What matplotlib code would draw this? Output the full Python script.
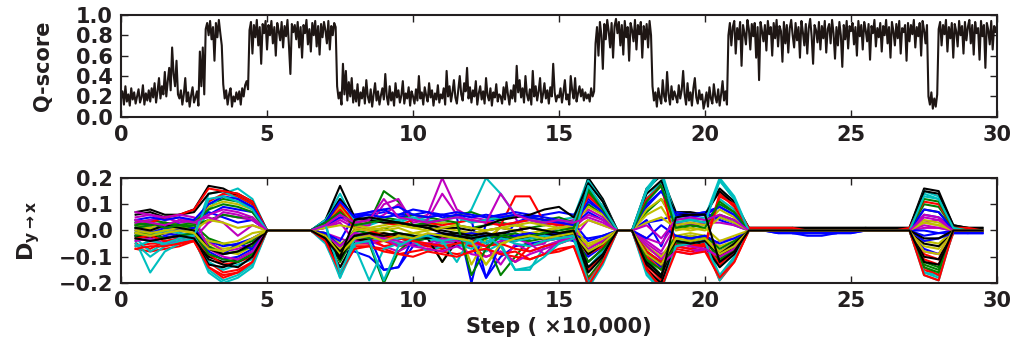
import numpy as np
import matplotlib
matplotlib.use('Agg')
import matplotlib.pyplot as plt

# Q-score trace, one row per 10,000 steps, 20 samples per row (values x100)
q_rows = [
    "18 25 12 30 15 22 11 28 17 24 13 20 27 14 19 31 12 23 16 26",
    "15 28 19 33 14 25 38 18 30 22 44 20 35 48 26 68 42 30 55 22",
    "18 26 12 22 38 15 24 10 21 29 14 19 25 11 64 30 68 22 86 92",
    "80 94 76 88 55 92 78 95 82 70 32 18 26 12 22 28 10 20 15 24",
    "17 25 12 28 20 31 35 27 85 93 62 90 78 95 70 88 52 91 82 94",
    "66 90 80 94 72 88 60 92 84 75 93 68 89 79 95 70 42 91 83 90",
    "76 93 68 88 58 90 82 95 71 86 64 92 80 94 69 89 61 91 78 93",
    "85 72 94 66 89 80 92 88 30 18 24 12 52 22 45 16 34 20 38 14",
    "26 15 32 11 24 18 29 13 36 20 14 27 10 22 33 16 25 12 21 28",
    "17 42 20 12 30 16 24 11 33 19 26 14 21 35 13 23 18 29 11 25",
    "20 13 27 16 40 18 24 12 29 21 15 33 19 26 11 23 17 31 14 22",
    "18 28 12 45 20 30 15 24 36 19 13 27 40 22 16 33 25 48 18 29",
    "14 26 20 35 12 23 30 17 25 13 38 21 16 28 11 24 19 32 15 22",
    "20 13 29 17 34 22 12 26 18 31 15 50 24 36 19 28 14 40 22 16",
    "27 12 45 20 30 16 25 38 14 22 33 18 26 13 29 20 52 24 15 21",
    "19 28 14 24 36 17 22 12 40 26 18 38 15 23 30 20 27 16 24 18",
    "22 15 28 20 25 72 88 60 93 80 47 91 76 95 84 68 92 58 89 96",
    "82 93 70 90 61 94 78 88 55 92 85 74 95 66 90 81 93 58 89 76",
    "91 68 94 80 30 16 24 10 28 19 13 36 20 15 44 22 12 30 17 25",
    "20 14 31 18 26 45 22 12 33 16 24 11 28 38 19 13 26 17 22 8",
    "15 24 10 29 18 13 32 20 14 27 11 22 35 16 25 12 80 92 70 88",
    "94 62 87 76 93 50 90 82 71 95 86 66 91 79 92 58 88 36 93 84",
    "74 90 65 94 81 88 60 92 77 95 69 89 84 54 93 72 90 63 87 95",
    "80 68 92 75 88 58 94 83 70 91 62 87 96 79 52 90 85 73 93 66",
    "89 77 94 63 86 91 72 95 82 57 88 70 93 80 49 90 76 94 67 89",
    "84 92 71 88 60 94 79 90 66 93 85 74 91 56 89 82 95 69 87 78",
    "92 64 89 80 95 72 88 58 93 84 70 91 77 94 62 87 83 90 55 92",
    "74 90 81 95 68 88 79 92 60 94 85 72 90 20 12 24 8 18 10 22",
    "86 93 70 90 81 95 64 88 77 92 58 91 84 69 94 80 89 62 93 75",
    "88 95 72 90 61 93 82 87 56 94 79 90 48 92 85 71 94 66 89 83 90",
]

# D_{y->x} sampled every 5,000 steps from 0.5 to 29.5 (values x100)
d_steps = np.arange(0.5, 30, 0.5)
d_lines = [
    "2 1 3 2 3 | 6 9 8 7 | 0 0 0 0 | 2 7 | 6 6 7 6 6 5 6 5 -20 3 5 6 5 6 7 6 | 12 7 | 0 0 | 9 15 | 6 6 7 | 9 6 | 0 0 0 0 0 -1 -1 0 0 0 0 0 | 6 5 | 1 0 0",
    "3 2 1 4 3 | 10 12 11 9 | 0 0 0 0 | 3 10 | 1 3 15 11 2 1 3 2 1 2 3 2 1 2 3 2 | 16 9 | 0 0 | 12 18 | 2 1 3 | 10 7 | 0 0 0 1 0 0 0 0 1 0 0 0 | 10 9 | 1 1 0",
    "-7 -8 -7 -6 -4 | -12 -16 -15 -12 | 0 0 0 0 | -2 -9 | -5 -5 -4 -6 -5 -6 -5 -4 -5 -6 2 13 13 3 2 1 | -15 -9 | 0 0 | -13 -19 | -6 -7 -6 | -19 -12 | 0 0 0 0 -1 0 0 0 0 0 0 0 | -11 -13 | -1 0 0",
    "-4 -16 -8 -5 -3 | 8 14 16 12 | 0 0 0 0 | 4 14 | 3 2 4 3 5 4 3 2 8 20 14 6 4 3 4 5 | 20 11 | 0 0 | 15 22 | 4 5 4 | 19 12 | 0 0 0 0 0 0 0 0 0 0 0 0 | 14 12 | 1 0 0",
    "5 6 4 5 3 | 3 6 5 4 | 0 0 0 0 | 1 5 | 2 3 6 10 4 6 20 8 5 4 6 5 -6 -5 3 4 | 8 5 | 0 0 | -4 -8 | 2 3 2 | 5 3 | 0 0 0 0 0 0 0 0 0 0 0 0 | 3 4 | 0 0 0",
    "0 1 -1 0 0 | -5 -7 -6 -3 | 0 0 0 0 | -1 -5 | -2 -1 -3 -2 -1 -2 -12 -3 -2 -1 -2 -3 -2 -1 -2 -1 | -6 -4 | 0 0 | -7 -10 | -2 -1 -2 | -6 -4 | 0 0 0 0 0 0 0 0 0 0 0 0 | 3 2 | 0 0 0",
    "7 8 6 6 8 | 17 16 13 10 | 0 0 0 0 | 4 17 | 5 4 4 3 2 1 0 -1 -1 0 1 0 1 0 1 0 | 20 12 | 0 0 | 16 21 | 7 7 6 | 16 11 | 1 1 1 1 1 1 1 1 1 1 1 1 | 16 15 | 2 1 1",
    "-3 -4 -2 -3 -2 | -8 -11 -10 -7 | 0 0 0 0 | -3 -8 | -8 -10 -15 -14 -6 -5 -7 -6 -5 -18 -10 -6 -5 -4 -3 -4 | -10 -6 | 0 0 | -9 -14 | -4 -3 -5 | -8 -5 | 0 0 0 -1 -1 -1 -1 -1 0 0 0 0 | -7 -9 | -1 -1 -1",
    "2 3 2 1 2 | -3 -5 -6 -4 | 0 0 0 0 | -2 -12 | -2 -5 -20 -8 -3 -2 -4 -3 -2 -4 -17 -10 -3 -2 -1 -2 | -18 -11 | 0 0 | -11 -17 | -3 -2 -3 | -12 -7 | 0 0 0 0 0 0 0 0 0 0 0 0 | -13 -15 | 0 0 0",
    "-6 -5 -5 -5 -4 | -14 -17 -16 -13 | 0 0 0 0 | -3 -14 | -6 -6 -7 -9 -8 -7 -8 -9 -8 -7 -9 -10 -11 -9 -7 -6 | -19 -12 | 0 0 | -14 -21 | -7 -8 -7 | -18 -11 | 0 0 0 0 0 0 0 0 0 0 0 0 | -15 -17 | -1 0 0",
    "-2 -3 -6 -4 -3 | -15 -19 -17 -13 | 0 0 0 0 | -4 -18 | -3 -4 -3 -5 -4 -3 -5 -4 -6 -8 -5 -15 -15 -6 -4 -3 | -22 -13 | 0 0 | -16 -22 | -3 -5 -4 | -17 -10 | 0 0 0 0 0 0 0 0 0 0 0 0 | -16 -18 | 0 0 0",
    "-2 -1 -3 -2 -1 | -4 -8 -7 -5 | 0 0 0 0 | -1 -3 | -5 -4 -6 -8 -5 -6 -4 -5 -3 -6 -13 -5 -8 -6 -4 -3 | -7 -4 | 0 0 | -5 -9 | -6 -7 -8 | -9 -5 | 0 0 0 0 0 0 0 0 0 0 0 0 | 1 1 | 0 0 0",
    "1 0 1 2 1 | -6 -8 -9 -6 | 0 0 0 0 | -2 -10 | 1 0 -1 -2 -3 -2 -1 -4 -5 -13 -6 -2 -1 -2 -1 0 | -5 -3 | 0 0 | -6 -10 | -3 -2 -3 | -8 -5 | 0 0 0 0 0 0 0 0 0 0 0 0 | -6 -7 | 0 0 0",
    "-1 -2 0 -1 -2 | -10 -12 -11 -8 | 0 0 0 0 | -3 -11 | -1 -2 -1 -2 -3 -2 -3 -2 -3 -2 -1 -2 -1 -2 -1 -1 | -12 -7 | 0 0 | -12 -17 | -4 -5 -4 | -10 -6 | 0 0 0 0 0 0 0 0 0 0 0 0 | -5 -6 | 0 0 0",
    "1 2 1 3 4 | 7 5 3 4 | 0 0 0 0 | 2 5 | 5 7 8 5 6 7 6 5 4 -18 -5 3 5 4 3 2 | 7 4 | 0 0 | 4 -6 | 7 6 7 | 4 2 | 0 0 0 -1 -1 -1 -1 0 0 0 0 0 | -2 -1 | 0 -1 -1",
    "3 4 3 2 2 | 4 6 5 5 | 0 0 0 0 | 2 8 | 3 4 5 4 6 5 4 6 7 5 4 6 5 4 5 3 | 10 6 | 0 0 | 7 12 | 3 4 3 | 6 4 | 0 0 0 0 0 0 0 0 0 0 0 0 | 8 7 | 1 1 0",
    "-5 -7 -4 -5 -3 | -9 -13 -12 -10 | 0 0 0 0 | -2 -7 | -4 -3 -6 -5 -4 -6 -7 -5 -6 -10 -8 -12 -6 -4 -3 -2 | -9 -6 | 0 0 | -10 -15 | -4 -6 -5 | -13 -8 | 0 0 0 0 0 0 0 0 0 0 0 0 | -9 -11 | 0 0 0",
    "-3 -8 -5 -3 -2 | -12 -15 -13 -11 | 0 0 0 0 | 3 -18 | -6 -19 -7 -5 -4 -8 -6 -5 -7 -4 -3 -5 -6 -4 -3 -2 | -14 -8 | 0 0 | 12 19 | -5 -4 -6 | 12 8 | 0 0 0 0 0 0 0 0 0 0 0 0 | -16 -17 | 0 0 0",
    "3 4 5 3 4 | 5 3 -2 2 | 0 0 0 0 | 1 4 | 1 2 10 12 3 4 14 6 3 4 2 3 4 2 3 1 | 6 4 | 0 0 | -3 -5 | 3 2 3 | 3 2 | 0 0 0 0 0 0 0 0 0 0 0 0 | 2 1 | 0 0 0",
    "2 1 3 2 3 | 9 11 10 8 | 0 0 0 0 | 2 9 | 2 1 2 3 1 2 3 2 -13 -3 1 2 3 2 1 2 | 9 6 | 0 0 | 8 12 | 2 3 2 | 8 5 | 0 0 0 0 0 0 0 0 0 0 0 0 | 4 3 | 0 0 0",
    "-2 -3 -1 -2 -3 | -13 -14 -12 -9 | 0 0 0 0 | -4 -14 | -4 -3 -2 -3 -4 -3 -12 -4 -3 -2 -3 -4 -2 -3 -2 -1 | -16 -10 | 0 0 | -15 -20 | -5 -4 -6 | -14 -9 | 0 0 0 0 0 0 0 0 0 0 0 0 | -10 -11 | 0 0 0",
    "-1 0 -1 -2 -1 | -4 -6 -5 -3 | 0 0 0 0 | -1 -4 | 6 7 8 9 6 5 6 7 6 5 6 7 6 5 4 3 | -4 -2 | 0 0 | 3 4 | 6 6 6 | 5 3 | 0 0 -1 -1 -1 -1 -1 0 0 0 0 0 | 0 -1 | -1 -1 -1",
    "1 2 3 2 1 | -6 -9 -8 -6 | 0 0 0 0 | -2 -6 | 0 -1 1 -1 -2 -3 -2 -1 -2 -3 -2 -1 -3 -2 -1 0 | -8 -5 | 0 0 | -8 -12 | -2 -3 -2 | -7 -4 | 0 0 0 0 0 0 0 0 0 0 0 0 | -12 -14 | 0 0 0",
    "-3 -2 -4 -3 -2 | 11 14 13 10 | 0 0 0 0 | 3 10 | 3 4 3 2 4 3 2 3 4 3 2 3 4 3 2 3 | 13 8 | 0 0 | -8 -12 | -6 -7 -5 | 14 9 | 0 0 0 0 0 0 0 0 0 0 0 0 | -14 -17 | 0 0 0",
    "-1 -2 0 -1 -2 | 14 15 12 9 | 0 0 0 0 | 4 12 | 4 5 3 4 5 3 4 5 3 4 5 6 4 3 4 3 | 19 11 | 0 0 | 16 23 | 5 4 5 | 20 13 | 0 0 0 0 0 0 0 0 0 0 0 0 | 15 13 | 1 0 0",
    "-4 -3 -5 -4 -3 | 3 7 6 4 | 0 0 0 0 | 1 3 | -4 -5 -3 -6 -4 -5 -3 -4 -5 -6 -4 -3 -5 -9 -4 -3 | 4 2 | 0 0 | -6 -11 | -5 -6 -7 | -4 -3 | 0 0 0 0 0 0 0 0 0 0 0 0 | 6 5 | 0 0 0",
    "-1 0 1 0 -1 | -4 -5 -4 -1 | 0 0 0 0 | -1 -7 | 0 1 0 1 -1 0 1 0 -1 0 1 0 -1 0 1 0 | 4 2 | 0 0 | 6 9 | 0 1 0 | 5 3 | 0 0 0 0 0 0 0 0 0 0 0 0 | -4 -5 | 0 0 0",
    "6 7 5 6 7 | 14 15 14 11 | 0 0 0 0 | 3 12 | 5 4 3 3 2 2 1 1 0 2 4 5 6 8 9 5 | 18 11 | 0 0 | 14 19 | 6 6 6 | 15 10 | 1 1 1 1 1 1 1 1 1 1 1 1 | 15 14 | 2 1 1",
    "0 -1 1 0 1 | -7 -9 -5 -7 | 0 0 0 0 | -1 -6 | -1 -2 -15 -14 -3 -2 -1 -2 -1 -2 -3 -2 -1 -2 -1 -2 | -3 -2 | 0 0 | -3 2 | -2 -3 -2 | -5 -3 | 0 0 -1 -1 -2 -2 -1 -1 0 0 0 0 | -4 -3 | -1 -1 0",
    "-2 -1 -3 -2 -1 | -9 -11 -12 -9 | 0 0 0 0 | -3 -9 | -2 -3 -2 -3 -4 -3 -2 -3 -4 -3 -2 -3 -4 -3 -2 -1 | -12 -7 | 0 0 | -11 -15 | -5 -4 -3 | -11 -7 | 0 0 0 0 0 0 0 0 0 0 0 0 | -14 -16 | 0 0 0",
    "4 3 5 6 8 | 16 15 14 11 | 0 0 0 0 | 2 8 | 1 0 -2 -3 -4 -5 -6 -5 -4 -6 -5 -7 -8 -6 -5 -3 | 14 9 | 0 0 | 12 17 | -6 -5 -6 | 13 10 | 1 1 1 1 0 0 0 0 0 0 0 1 | 11 10 | 1 1 0",
    "-5 -10 -6 -4 -3 | -16 -20 -18 -14 | 0 0 0 0 | -5 -17 | -3 -2 -4 -3 -2 -3 -4 -12 -2 -5 -3 -4 -3 -2 -3 -2 | -20 -12 | 0 0 | -17 -23 | -6 -5 -4 | -19 -11 | 0 0 0 0 0 0 0 0 0 0 0 0 | -17 -19 | 0 0 0",
    "7 6 5 6 5 | -7 -10 -11 -8 | 0 0 0 0 | -2 -6 | -1 -2 -3 -4 -6 -7 -8 -6 -9 -10 -8 -12 -9 -7 -5 -3 | -6 -4 | 0 0 | -9 -13 | -8 -9 -7 | -10 -7 | 0 0 0 0 0 0 0 0 0 0 0 0 | -8 -9 | 0 0 0",
    "0 -1 0 1 0 | 4 3 1 2 | 0 0 0 0 | 1 2 | 1 0 1 2 1 0 1 2 1 0 1 2 1 0 1 2 | -6 -3 | 0 0 | 3 5 | 1 0 1 | -4 -2 | 0 0 0 0 0 0 0 0 0 0 0 0 | 3 2 | 0 0 0",
    "1 0 2 1 0 | -7 -9 -8 -5 | 0 0 0 0 | -2 -8 | -2 -1 -2 -1 -2 -3 -2 -1 -2 -1 -2 -3 -2 -1 -2 -1 | -9 -5 | 0 0 | -9 -13 | -4 -5 -4 | -9 -5 | 0 0 0 0 0 0 0 0 0 0 0 0 | -3 -3 | 0 0 0",
    "4 5 4 5 4 | 10 13 12 9 | 0 0 0 0 | 3 11 | 5 6 5 6 8 7 5 6 5 6 5 6 5 4 3 2 | 11 7 | 0 0 | 10 15 | 6 5 6 | 9 6 | 0 0 0 -1 0 0 0 0 0 0 0 0 | 8 7 | 0 0 0",
    "2 3 1 2 3 | 8 10 9 7 | 0 0 0 0 | 3 7 | 2 3 4 3 2 3 4 3 -17 -7 -2 -3 -2 -1 0 1 | 15 8 | 0 0 | 11 17 | 1 2 1 | 11 7 | 0 0 0 0 0 0 0 0 0 0 0 0 | 12 11 | 1 0 0",
    "-7 -6 -6 -5 -4 | -14 -18 -16 -12 | 0 0 0 0 | -4 -16 | -7 -6 -8 -9 -10 -8 -9 -10 -8 -7 -9 -8 -11 -9 -8 -6 | -21 -12 | 0 0 | -15 -22 | -8 -9 -8 | -18 -12 | 0 0 0 0 0 0 0 0 0 0 0 0 | -17 -19 | 0 0 0",
    "-6 -4 -5 -3 -2 | 12 13 11 8 | 0 0 0 0 | 2 -16 | -5 -4 -19 -6 -3 -2 -4 -3 -5 -2 -6 -15 -14 -10 -5 -3 | 17 9 | 0 0 | 15 22 | 3 4 3 | 19 12 | 0 0 0 0 0 0 0 0 0 0 0 0 | 13 12 | 1 0 0",
    "4 3 2 4 3 | 6 8 7 5 | 0 0 0 0 | 2 6 | 3 4 12 5 4 3 4 5 4 3 14 6 4 3 4 3 | 5 3 | 0 0 | 2 -3 | 4 5 4 | 6 4 | 0 0 0 0 0 0 0 0 0 0 0 0 | 5 4 | 0 0 0",
    "-1 -2 -1 0 -1 | -7 -8 -6 -3 | 0 0 0 0 | -2 -9 | -3 -2 -4 -2 -3 -1 -2 -3 -4 -13 -5 -3 -2 -3 -2 -1 | -8 -5 | 0 0 | -9 -13 | -3 -4 -3 | -9 -6 | 0 0 0 0 0 0 0 0 0 0 0 0 | -8 -9 | 0 0 0",
    "-3 -4 -3 -2 -3 | -11 -13 -14 -10 | 0 0 0 0 | -3 -10 | 4 5 4 3 2 1 -1 -2 -3 -2 -1 0 1 0 -1 0 | -14 -9 | 0 0 | -13 -18 | 5 6 6 | -12 -8 | 0 0 0 0 0 0 0 0 0 0 0 0 | -12 -13 | 0 0 0",
]
line_colors = ['b', 'g', 'r', 'c', 'm', 'y', 'k']

ink = '#231f20'
plt.rcParams['font.family'] = 'DejaVu Sans'
plt.rcParams['font.weight'] = 'bold'
plt.rcParams['mathtext.fontset'] = 'dejavusans'
plt.rcParams['text.color'] = ink
plt.rcParams['axes.labelcolor'] = ink
plt.rcParams['xtick.color'] = ink
plt.rcParams['ytick.color'] = ink

q_score = np.array(' '.join(q_rows).split(), dtype=float) / 100
q_steps = np.linspace(0, 30, len(q_score))

fig = plt.figure(figsize=(10.17, 3.53), dpi=100)
ax1 = fig.add_axes([0.119, 0.669, 0.8614, 0.289])
ax2 = fig.add_axes([0.119, 0.1983, 0.8614, 0.2975])

ax1.plot(q_steps, q_score, color='#1e1614', lw=1.5)
ax1.set_xlim(0, 30)
ax1.set_ylim(0, 1)
ax1.set_yticks(np.arange(0, 1.01, 0.2))
ax1.set_ylabel('Q-score', fontsize=15, fontweight='bold')
ax1.yaxis.set_label_coords(-0.078, 0.5)

for j, s in enumerate(d_lines):
    vals = np.array(s.replace('|', ' ').split(), dtype=float) / 100
    assert len(vals) == len(d_steps), (j, len(vals))
    ax2.plot(d_steps, vals, color=line_colors[j % 7], lw=1.5)
ax2.set_xlim(0, 30)
ax2.set_ylim(-0.2, 0.2)
ax2.set_yticks([-0.2, -0.1, 0.0, 0.1, 0.2])
ax2.set_ylabel(r'$\mathbf{D_{y\rightarrow x}}$', fontsize=16)
ax2.yaxis.set_label_coords(-0.09, 0.5)
ax2.set_xlabel('Step ( \u00d710,000)', fontsize=15, fontweight='bold')

for ax in (ax1, ax2):
    ax.set_xticks(range(0, 31, 5))
    ax.tick_params(direction='in', top=True, right=True, length=5, width=1,
                   labelsize=15, pad=6)
    for sp in ax.spines.values():
        sp.set_linewidth(1.5)
        sp.set_color(ink)

fig.savefig('out.png', dpi=100)
